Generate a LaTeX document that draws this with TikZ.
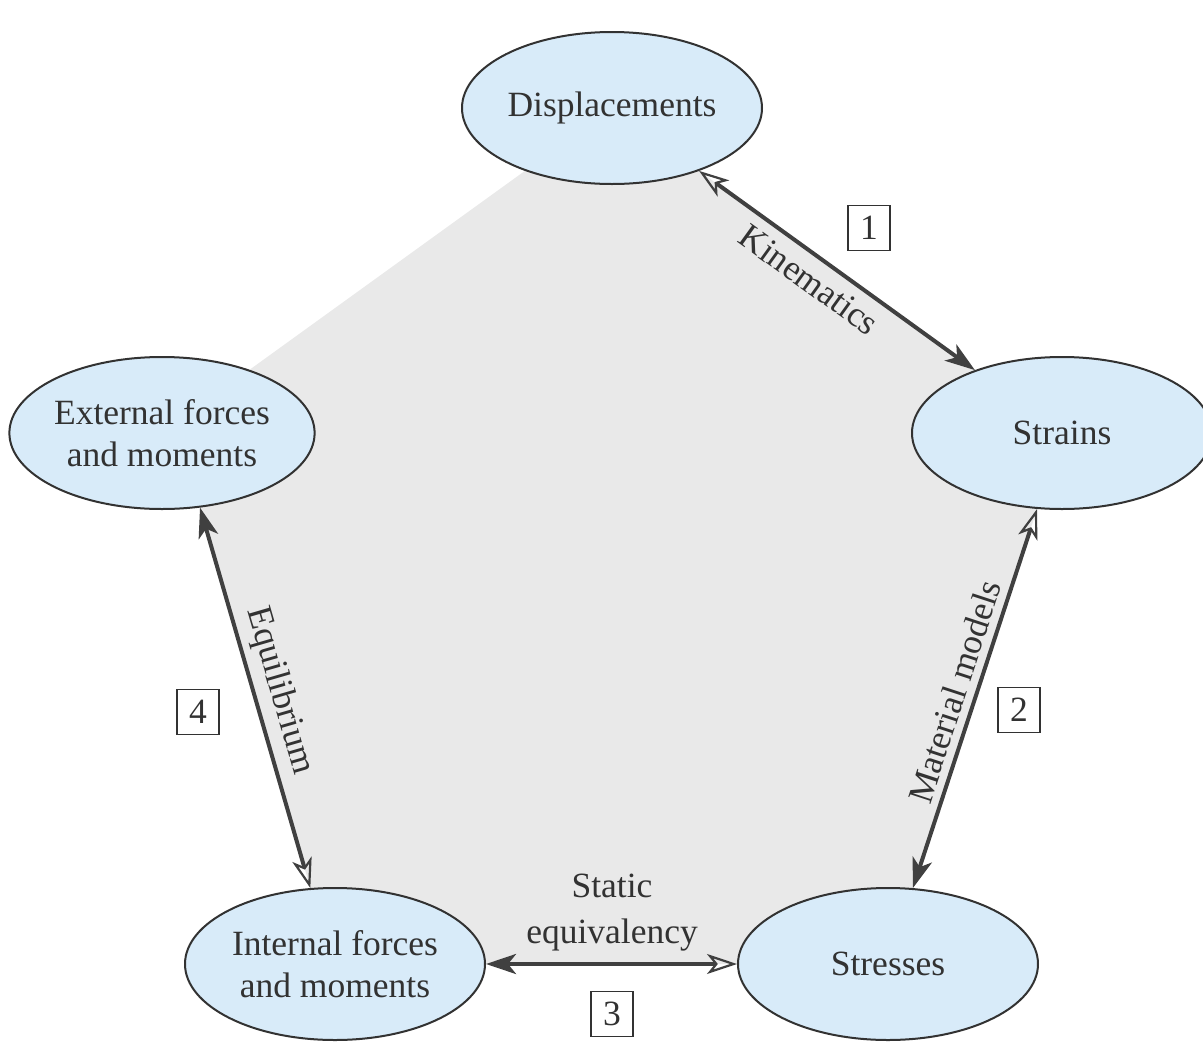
\documentclass[tikz,border=0pt]{standalone}
\usepackage{fontspec}
\setmainfont{Liberation Serif}
\usetikzlibrary{shapes.geometric,arrows.meta,backgrounds}
\definecolor{ellfill}{RGB}{216,235,249}
\definecolor{pentfill}{RGB}{233,233,233}
\definecolor{ink}{RGB}{50,50,50}
\definecolor{arrowc}{RGB}{64,64,64}
\tikzset{
  fa/.tip={Stealth[length=30pt,width=20pt,inset=8pt]},
  oa/.tip={Stealth[open,length=30pt,width=20pt,inset=8pt,line width=2.2pt]},
}
\begin{document}
\begin{tikzpicture}[x=1pt,y=-1pt,
  every node/.style={text=ink, font=\fontsize{35.5}{42}\selectfont},
  ell/.style={ellipse, draw=ink, line width=2pt, fill=ellfill, minimum width=300pt, minimum height=152pt, inner sep=0pt, align=center},
  link/.style={draw=arrowc, line width=4pt},
  numbox/.style={draw=ink, line width=1.6pt, minimum width=42pt, minimum height=45pt, inner sep=0pt},
  lab/.style={sloped, inner sep=7pt}]
\useasboundingbox (0,0) rectangle (1203,1058);
\node[ell] (disp) at (612,108) {Displacements};
\node[ell] (strain) at (1062,433) {Strains};
\node[ell] (stress) at (888,964) {Stresses};
\node[ell] (internal) at (335,964) {Internal forces\\and moments};
\node[ell] (external) at (162,433) {External forces\\and moments};
\begin{scope}[on background layer]
  \fill[pentfill] (disp.center) -- (strain.center) -- (stress.center) -- (internal.center)
    -- (internal.108) -- (external.-63) -- (external.center) -- cycle;
\end{scope}
\draw[link, {oa}-{fa}] (disp) -- node[lab, below, pos=0.45, inner sep=10pt] (kin) {Kinematics} (strain);
\draw[link, {fa}-{oa}] (stress) -- node[lab, above, pos=0.5] (mat) {Material models} (strain);
\draw[link, {fa}-{oa}] (internal) -- (stress);
\draw[link, {fa}-{oa}] (external.-63) -- node[lab, above, pos=0.5] (equ) {Equilibrium} (internal.108);
\node[align=center, font=\fontsize{35.5}{46}\selectfont] (stat) at (612,913) {Static\\equivalency};
\node[numbox] (n1) at (869,228) {1};
\node[numbox] (n2) at (1019,710) {2};
\node[numbox] (n3) at (612,1014) {3};
\node[numbox] (n4) at (198,712) {4};
\end{tikzpicture}
\end{document}
